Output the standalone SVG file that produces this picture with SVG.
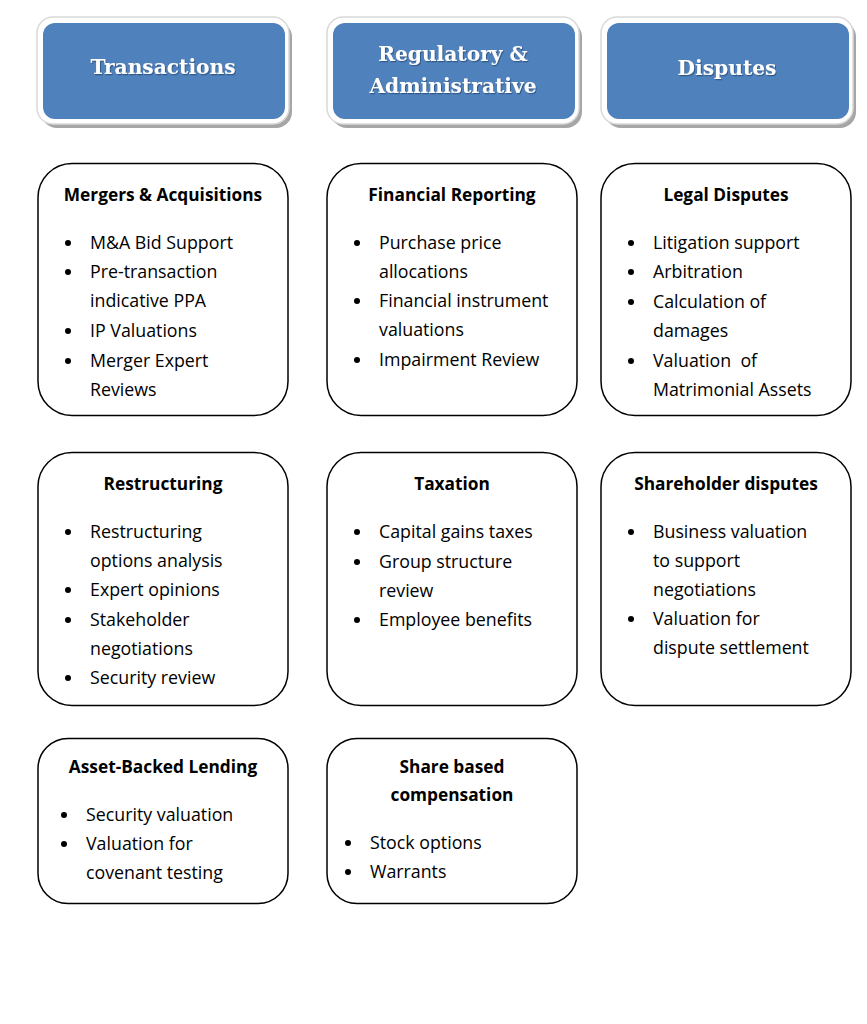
<svg xmlns="http://www.w3.org/2000/svg" width="867" height="1024" viewBox="0 0 867 1024">
<defs>
<style>
.hshadow{fill:#a6a6a6;}
.hframe{fill:#ffffff;stroke:#d9d9d9;stroke-width:1.5;}
.hfill{fill:#4f81bd;}
.htext{font-family:"DejaVu Serif","Liberation Serif",serif;font-weight:bold;font-size:20.2px;fill:#ffffff;text-anchor:middle;}
.box{fill:#ffffff;stroke:#000000;stroke-width:1.5;}
.title{font-family:"Open Sans","Noto Sans",sans-serif;font-weight:bold;font-size:17.3px;fill:#000000;text-anchor:middle;}
.item{font-family:"Open Sans","Noto Sans",sans-serif;font-size:17.8px;fill:#000000;}
.dot{fill:#000000;}
</style>
<filter id="ts" x="-10%" y="-30%" width="120%" height="160%">
<feDropShadow dx="1" dy="1.2" stdDeviation="0.7" flood-color="#1f3a5f" flood-opacity="0.6"/>
</filter>
</defs>

<g id="header-transactions">
<rect class="hshadow" x="41" y="21" width="251" height="107" rx="16"/>
<rect class="hframe" x="37" y="17" width="252" height="107" rx="16"/>
<rect class="hfill" x="43" y="23" width="242" height="96" rx="12"/>
<text class="htext" x="163" y="74" filter="url(#ts)">Transactions</text>
</g>

<g id="header-regulatory">
<rect class="hshadow" x="331" y="21" width="251" height="107" rx="16"/>
<rect class="hframe" x="327" y="17" width="252" height="107" rx="16"/>
<rect class="hfill" x="333" y="23" width="242" height="96" rx="12"/>
<text class="htext" x="453" y="61" filter="url(#ts)">Regulatory &amp;</text>
<text class="htext" x="453" y="93" filter="url(#ts)">Administrative</text>
</g>

<g id="header-disputes">
<rect class="hshadow" x="605" y="21" width="251" height="107" rx="16"/>
<rect class="hframe" x="601" y="17" width="252" height="107" rx="16"/>
<rect class="hfill" x="607" y="23" width="242" height="96" rx="12"/>
<text class="htext" x="727" y="75" filter="url(#ts)">Disputes</text>
</g>

<g id="connectors"></g>

<g id="box-ma">
<rect class="box" x="38" y="163.5" width="250" height="252" rx="34"/>
<text class="title" x="163" y="201">Mergers &amp; Acquisitions</text>
<circle class="dot" cx="68" cy="243" r="3"/>
<text class="item" x="90" y="249">M&amp;A Bid Support</text>
<circle class="dot" cx="68" cy="272" r="3"/>
<text class="item" x="90" y="278">Pre-transaction</text>
<text class="item" x="90" y="307">indicative PPA</text>
<circle class="dot" cx="68" cy="331" r="3"/>
<text class="item" x="90" y="337">IP Valuations</text>
<circle class="dot" cx="68" cy="361" r="3"/>
<text class="item" x="90" y="367">Merger Expert</text>
<text class="item" x="90" y="396">Reviews</text>
</g>

<g id="box-financial-reporting">
<rect class="box" x="327" y="163.5" width="250" height="252" rx="34"/>
<text class="title" x="452" y="201">Financial Reporting</text>
<circle class="dot" cx="357" cy="243" r="3"/>
<text class="item" x="379" y="249">Purchase price</text>
<text class="item" x="379" y="278">allocations</text>
<circle class="dot" cx="357" cy="301" r="3"/>
<text class="item" x="379" y="307">Financial instrument</text>
<text class="item" x="379" y="336">valuations</text>
<circle class="dot" cx="357" cy="360" r="3"/>
<text class="item" x="379" y="366">Impairment Review</text>
</g>

<g id="box-legal-disputes">
<rect class="box" x="601" y="163.5" width="250" height="252" rx="34"/>
<text class="title" x="726" y="201">Legal Disputes</text>
<circle class="dot" cx="631" cy="243" r="3"/>
<text class="item" x="653" y="249">Litigation support</text>
<circle class="dot" cx="631" cy="272" r="3"/>
<text class="item" x="653" y="278">Arbitration</text>
<circle class="dot" cx="631" cy="302" r="3"/>
<text class="item" x="653" y="308">Calculation of</text>
<text class="item" x="653" y="337">damages</text>
<circle class="dot" cx="631" cy="361" r="3"/>
<text class="item" x="653" y="367" xml:space="preserve">Valuation  of</text>
<text class="item" x="653" y="396">Matrimonial Assets</text>
</g>

<g id="box-restructuring">
<rect class="box" x="38" y="452.5" width="250" height="253" rx="34"/>
<text class="title" x="163" y="490">Restructuring</text>
<circle class="dot" cx="68" cy="532" r="3"/>
<text class="item" x="90" y="538">Restructuring</text>
<text class="item" x="90" y="567">options analysis</text>
<circle class="dot" cx="68" cy="590" r="3"/>
<text class="item" x="90" y="596">Expert opinions</text>
<circle class="dot" cx="68" cy="620" r="3"/>
<text class="item" x="90" y="626">Stakeholder</text>
<text class="item" x="90" y="655">negotiations</text>
<circle class="dot" cx="68" cy="678" r="3"/>
<text class="item" x="90" y="684">Security review</text>
</g>

<g id="box-taxation">
<rect class="box" x="327" y="452.5" width="250" height="253" rx="34"/>
<text class="title" x="452" y="490">Taxation</text>
<circle class="dot" cx="357" cy="532" r="3"/>
<text class="item" x="379" y="538">Capital gains taxes</text>
<circle class="dot" cx="357" cy="562" r="3"/>
<text class="item" x="379" y="568">Group structure</text>
<text class="item" x="379" y="597">review</text>
<circle class="dot" cx="357" cy="620" r="3"/>
<text class="item" x="379" y="626">Employee benefits</text>
</g>

<g id="box-shareholder-disputes">
<rect class="box" x="601" y="452.5" width="250" height="253" rx="34"/>
<text class="title" x="726" y="490">Shareholder disputes</text>
<circle class="dot" cx="631" cy="532" r="3"/>
<text class="item" x="653" y="538">Business valuation</text>
<text class="item" x="653" y="567">to support</text>
<text class="item" x="653" y="596">negotiations</text>
<circle class="dot" cx="631" cy="619" r="3"/>
<text class="item" x="653" y="625">Valuation for</text>
<text class="item" x="653" y="654">dispute settlement</text>
</g>

<g id="box-asset-backed-lending">
<rect class="box" x="38" y="738.5" width="250" height="165" rx="30"/>
<text class="title" x="163" y="773">Asset-Backed Lending</text>
<circle class="dot" cx="64" cy="815" r="3"/>
<text class="item" x="86" y="821">Security valuation</text>
<circle class="dot" cx="64" cy="844" r="3"/>
<text class="item" x="86" y="850">Valuation for</text>
<text class="item" x="86" y="879">covenant testing</text>
</g>

<g id="box-share-based-compensation">
<rect class="box" x="327" y="738.5" width="250" height="165" rx="30"/>
<text class="title" x="452" y="773">Share based</text>
<text class="title" x="452" y="801">compensation</text>
<circle class="dot" cx="348" cy="843" r="3"/>
<text class="item" x="370" y="849">Stock options</text>
<circle class="dot" cx="348" cy="872" r="3"/>
<text class="item" x="370" y="878">Warrants</text>
</g>
</svg>
